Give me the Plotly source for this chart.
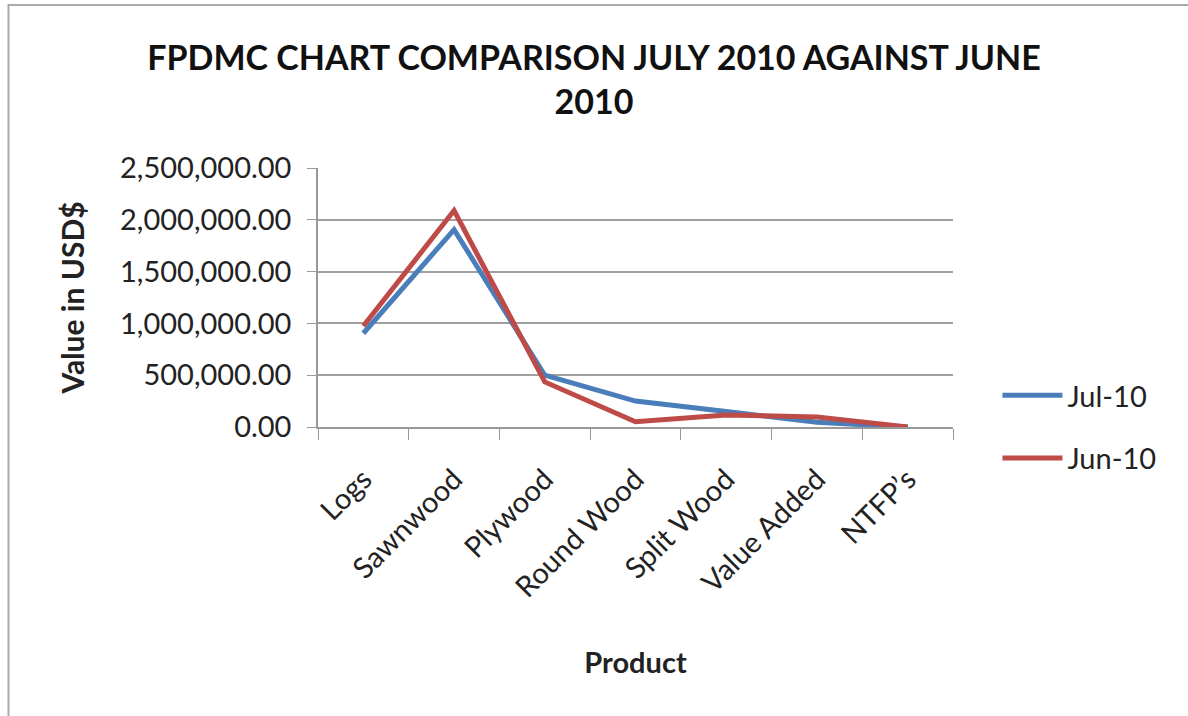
import plotly.graph_objects as go

products = ["Logs", "Sawnwood", "Plywood", "Round Wood", "Split Wood", "Value Added", "NTFP\u2019s"]
jul_10 = [905000, 1905000, 500000, 250000, 150000, 45000, 0]
jun_10 = [975000, 2090000, 435000, 50000, 115000, 97000, 0]

FONT = "Lato"
fig = go.Figure()
fig.add_trace(go.Scatter(x=products, y=jul_10, name="Jul-10", mode="lines", legendgroup="a",
                         line=dict(color="#4A7EBB", width=5), cliponaxis=False))
fig.add_trace(go.Scatter(x=products, y=jun_10, name="Jun-10", mode="lines", legendgroup="b",
                         line=dict(color="#BE4B48", width=5), cliponaxis=False))

W, H = 636, 259
fig.update_layout(
    width=1188, height=716,
    paper_bgcolor="white", plot_bgcolor="white",
    margin=dict(l=318, r=235, t=168, b=289),
    font=dict(family=FONT, color="#222222", size=29),
    title=dict(text="<b>FPDMC CHART COMPARISON JULY 2010 AGAINST JUNE<br>2010</b>",
               x=0.5, xanchor="center", y=0.902, yanchor="top",
               font=dict(family=FONT, size=34, color="#111111")),
    showlegend=True,
    legend=dict(x=1.07, xanchor="left", y=0.0, yanchor="middle",
                font=dict(size=29, family=FONT), tracegroupgap=22,
                itemwidth=60, bgcolor="rgba(0,0,0,0)"),
    xaxis=dict(
        title=dict(text="<b>Product</b>", font=dict(size=29), standoff=50),
        range=[-0.5, 6.5],
        tickangle=-45, tickson="boundaries", ticks="outside", ticklen=11,
        tickcolor="#999999", showline=True, linecolor="#999999", linewidth=1.5,
        showgrid=False, tickfont=dict(size=29), ticklabelstandoff=22,
    ),
    yaxis=dict(
        title=dict(text="<b>Value in USD$</b>", font=dict(size=30), standoff=27),
        range=[0, 2500000], dtick=500000, tickformat=",.2f",
        ticks="outside", ticklen=9, tickcolor="#999999", ticklabelstandoff=10,
        showline=True, linecolor="#999999", linewidth=1.5,
        showgrid=True, gridcolor="#a0a0a0", gridwidth=1.5,
        zeroline=False, tickfont=dict(size=29),
    ),
)

# outer chart border
fig.add_shape(type="rect", xref="paper", yref="paper",
              x0=-(318 - 8) / W, x1=1 + 260 / W, y0=-(300) / H, y1=1 + 163 / H,
              line=dict(color="#aaaaaa", width=2), layer="below")

fig.write_html("out.html")
